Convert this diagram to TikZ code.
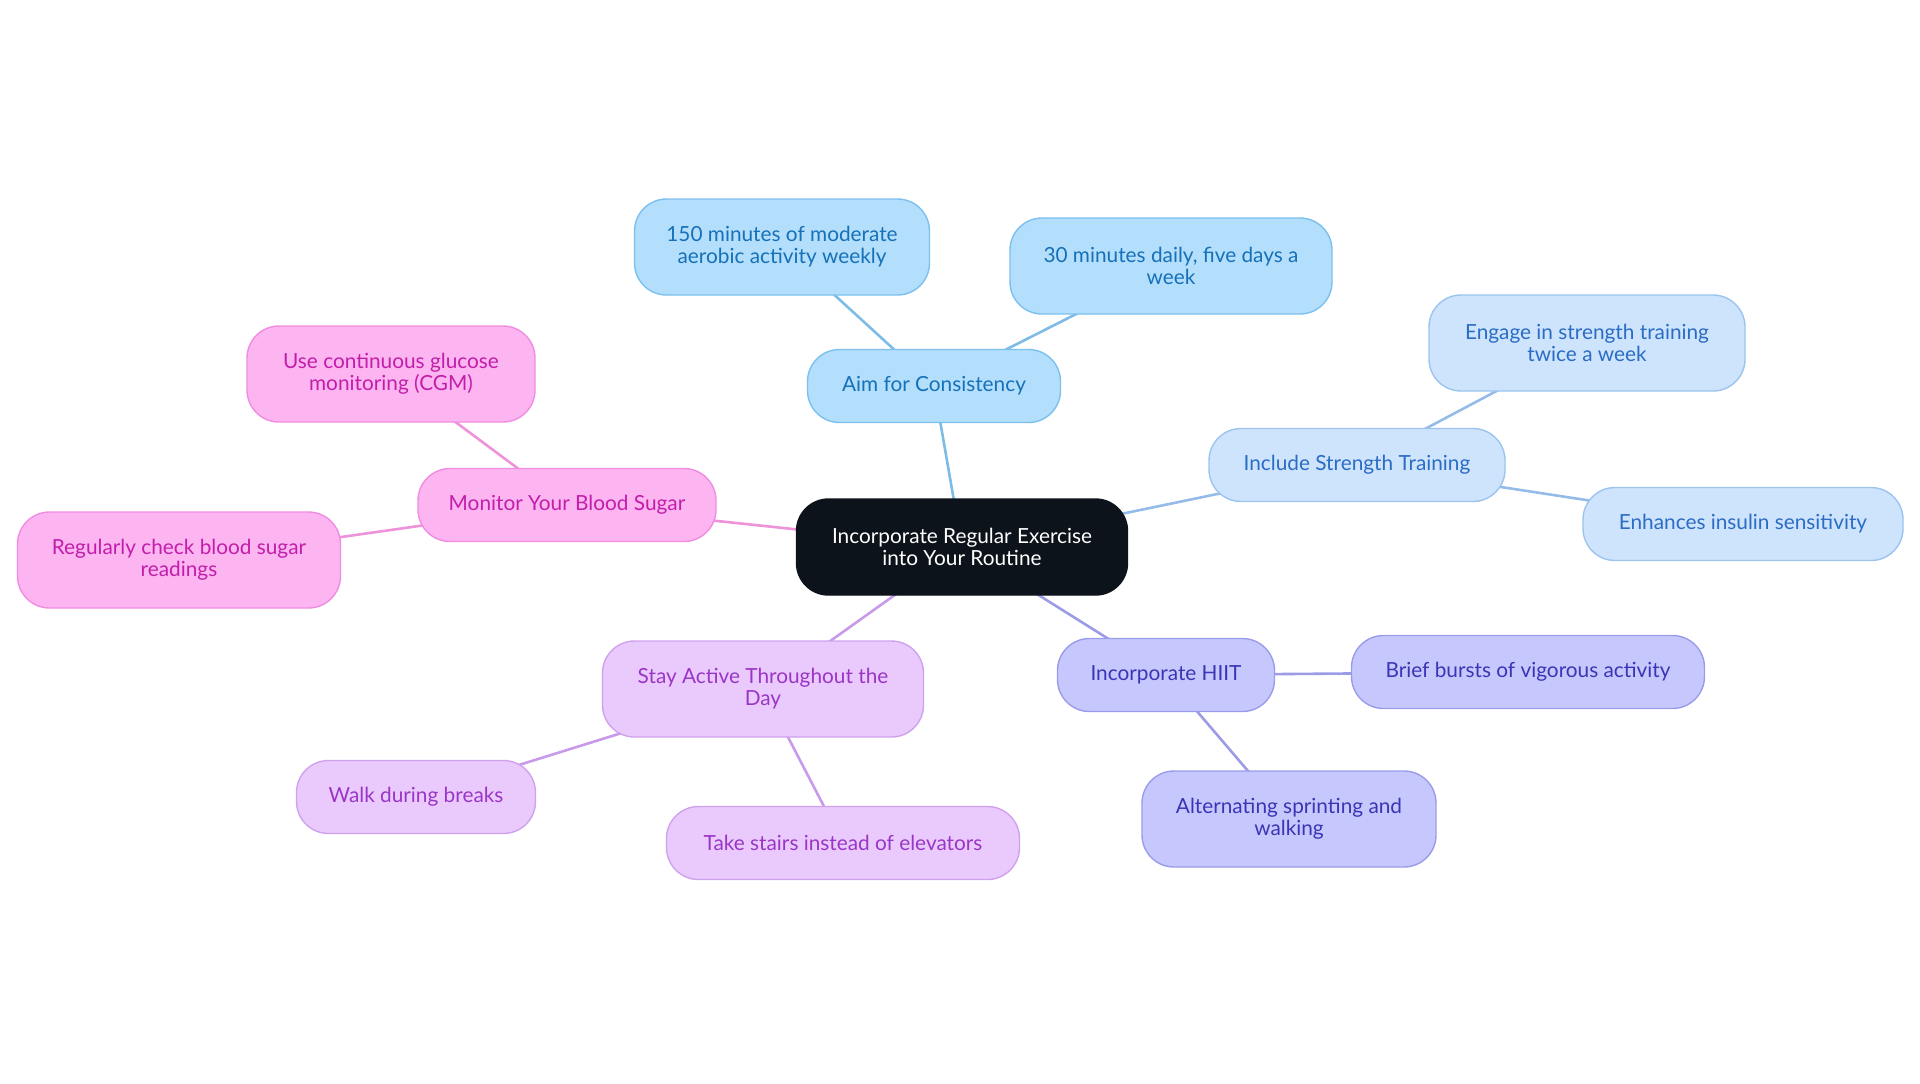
\documentclass[tikz,border=0pt]{standalone}
\usepackage{fontspec}
\setmainfont{Lato}
\usepackage{xcolor}
\usetikzlibrary{positioning, backgrounds}
\definecolor{rootFill}{HTML}{0D131A}
\definecolor{consFill}{HTML}{B3DEFC}
\definecolor{consDraw}{HTML}{7CC0EE}
\definecolor{consText}{HTML}{1671B8}
\definecolor{consLine}{HTML}{7DBCE6}
\definecolor{strFill}{HTML}{CDE4FC}
\definecolor{strDraw}{HTML}{9CC4EE}
\definecolor{strText}{HTML}{2B6CC4}
\definecolor{strLine}{HTML}{95BCE8}
\definecolor{hiitFill}{HTML}{C6C8FD}
\definecolor{hiitDraw}{HTML}{9A9CEB}
\definecolor{hiitText}{HTML}{3B34B5}
\definecolor{hiitLine}{HTML}{9C9CE6}
\definecolor{actFill}{HTML}{EACAFD}
\definecolor{actDraw}{HTML}{CFA2EE}
\definecolor{actText}{HTML}{9A36C6}
\definecolor{actLine}{HTML}{C99AEA}
\definecolor{bsFill}{HTML}{FCB5F1}
\definecolor{bsDraw}{HTML}{F08DE1}
\definecolor{bsText}{HTML}{C21EAA}
\definecolor{bsLine}{HTML}{EE92D9}
\tikzset{
    topic/.style={rectangle, rounded corners=16pt, line width=0.7pt, align=center, inner sep=0pt, minimum height=36.5pt, font=\fontsize{10.4}{11}\selectfont},
    tall/.style={minimum height=48pt},
    root/.style={topic, tall, draw=rootFill, fill=rootFill, text=white},
    consistency/.style={topic, draw=consDraw, fill=consFill, text=consText},
    strength/.style={topic, draw=strDraw, fill=strFill, text=strText},
    hiit/.style={topic, draw=hiitDraw, fill=hiitFill, text=hiitText},
    active/.style={topic, draw=actDraw, fill=actFill, text=actText},
    sugar/.style={topic, draw=bsDraw, fill=bsFill, text=bsText},
    link/.style={line width=1.3pt}
}
\begin{document}
\begin{tikzpicture}[x=0.5pt, y=-0.5pt]
    \useasboundingbox (0,0) rectangle (1920,1083);
    % centre
    \node[root, minimum width=165.5pt] (Routine) at (962,547) {Incorporate Regular Exercise\\into Your Routine};
    % consistency
    \node[consistency, minimum width=126.5pt] (Consist) at (934,386) {Aim for Consistency};
    \node[consistency, tall, minimum width=147.5pt] (Aerobic) at (782,247) {150 minutes of moderate\\aerobic activity weekly};
    \node[consistency, tall, minimum width=161pt] (Daily) at (1171,266) {30 minutes daily, five days a\\week};
    % strength
    \node[strength, minimum width=148pt] (Strength) at (1357,465) {Include Strength Training};
    \node[strength, tall, minimum width=158pt] (Twice) at (1587,343) {Engage in strength training\\twice a week};
    \node[strength, minimum width=160pt] (Insulin) at (1743,524) {Enhances insulin sensitivity};
    % hiit
    \node[hiit, minimum width=108.5pt] (Hiit) at (1166,675) {Incorporate HIIT};
    \node[hiit, minimum width=176.5pt] (Bursts) at (1528,672) {Brief bursts of vigorous activity};
    \node[hiit, tall, minimum width=147pt] (Sprint) at (1289,819) {Alternating sprinting and\\walking};
    % active
    \node[active, tall, minimum width=160.5pt] (Active) at (763,689) {Stay Active Throughout the\\Day};
    \node[active, minimum width=119.5pt] (Walk) at (416,797) {Walk during breaks};
    \node[active, minimum width=176.5pt] (Stairs) at (843,843) {Take stairs instead of elevators};
    % blood sugar
    \node[sugar, minimum width=149pt] (Sugar) at (567,505) {Monitor Your Blood Sugar};
    \node[sugar, tall, minimum width=144pt] (Cgm) at (391,374) {Use continuous glucose\\monitoring (CGM)};
    \node[sugar, tall, minimum width=161.5pt] (Check) at (179,560) {Regularly check blood sugar\\readings};

    \begin{scope}[on background layer]
        \draw[link, consLine] (Routine.center) -- (Consist.center);
        \draw[link, consLine] (Consist.center) -- (Aerobic.center);
        \draw[link, consLine] (Consist.center) -- (Daily.center);
        \draw[link, strLine] (Routine.center) -- (Strength.center);
        \draw[link, strLine] (Strength.center) -- (Twice.center);
        \draw[link, strLine] (Strength.center) -- (Insulin.center);
        \draw[link, hiitLine] (Routine.center) -- (Hiit.center);
        \draw[link, hiitLine] (Hiit.center) -- (Bursts.center);
        \draw[link, hiitLine] (Hiit.center) -- (Sprint.center);
        \draw[link, actLine] (Routine.center) -- (Active.center);
        \draw[link, actLine] (Active.center) -- (Walk.center);
        \draw[link, actLine] (Active.center) -- (Stairs.center);
        \draw[link, bsLine] (Routine.center) -- (Sugar.center);
        \draw[link, bsLine] (Sugar.center) -- (Cgm.center);
        \draw[link, bsLine] (Sugar.center) -- (Check.center);
    \end{scope}
\end{tikzpicture}
\end{document}
